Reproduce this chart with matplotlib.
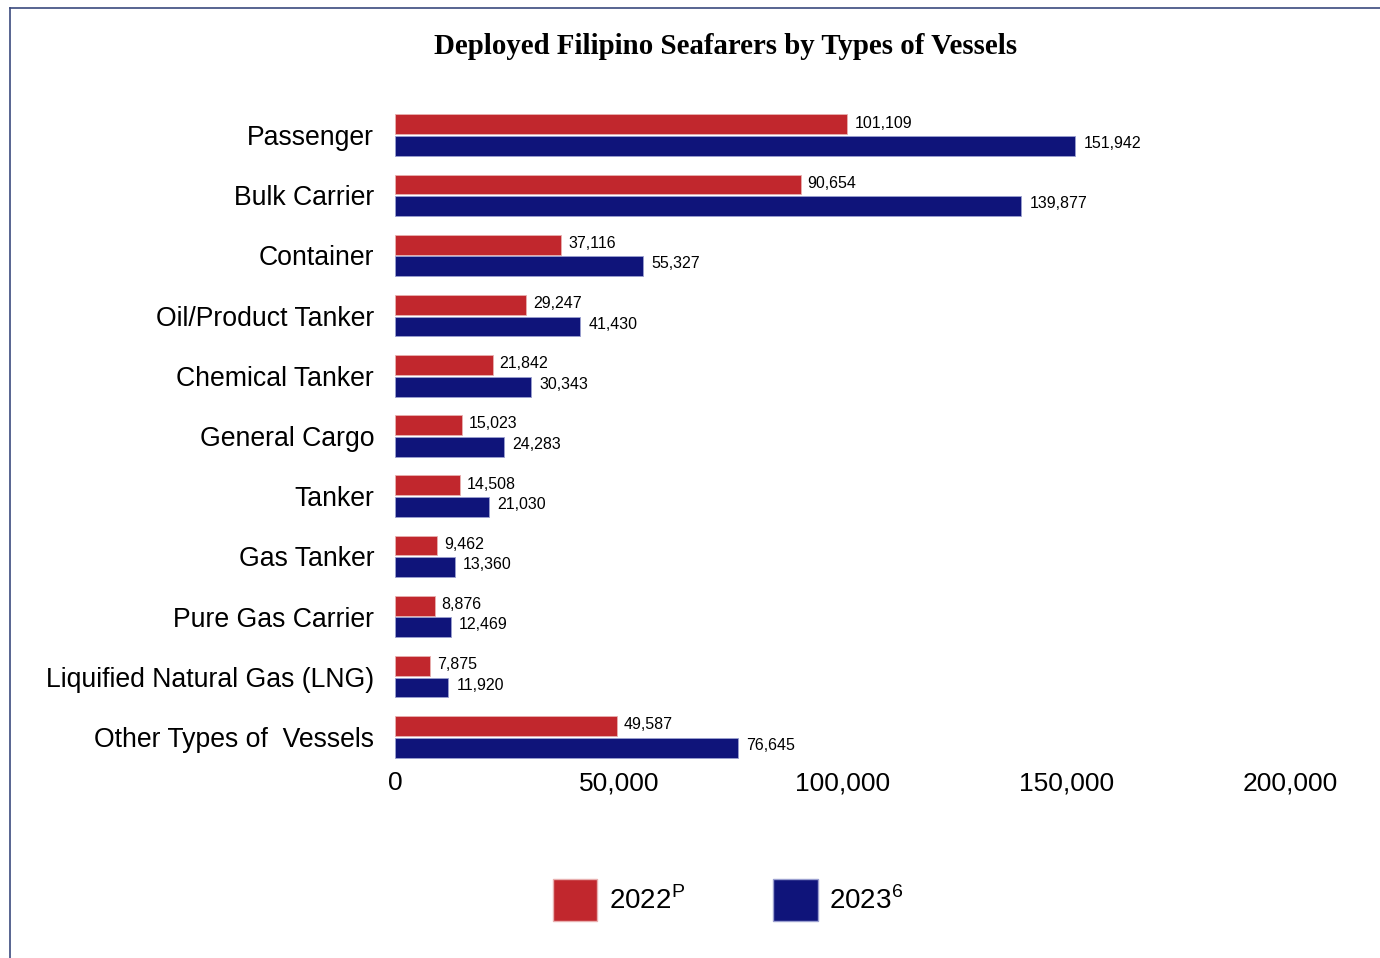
import matplotlib.pyplot as plt
import matplotlib.transforms as mtransforms
from matplotlib.patches import Patch
from matplotlib.lines import Line2D
import numpy as np

plt.rcParams['font.family'] = ['Liberation Sans', 'DejaVu Sans']
plt.rcParams['mathtext.fontset'] = 'custom'
plt.rcParams['mathtext.rm'] = 'Liberation Sans'

vessels = ['Passenger', 'Bulk Carrier', 'Container', 'Oil/Product Tanker',
           'Chemical Tanker', 'General Cargo', 'Tanker', 'Gas Tanker',
           'Pure Gas Carrier', 'Liquified Natural Gas (LNG)', 'Other Types of  Vessels']
y2022 = [101109, 90654, 37116, 29247, 21842, 15023, 14508, 9462, 8876, 7875, 49587]
y2023 = [151942, 139877, 55327, 41430, 30343, 24283, 21030, 13360, 12469, 11920, 76645]

RED = '#C1272D'
BLUE = '#0F147A'

fig = plt.figure(figsize=(13.8, 9.58), dpi=100)
ax = fig.add_axes([395 / 1380, 1 - 767 / 958, 895 / 1380, 662 / 958])

pos = np.arange(len(vessels))
h = 0.33
ax.barh(pos - h / 2 - 0.015, y2022, height=h, color=RED, edgecolor='#E8B0B0', linewidth=0.6)
ax.barh(pos + h / 2 + 0.015, y2023, height=h, color=BLUE, edgecolor='#9BA0D0', linewidth=0.6)

for i in range(len(vessels)):
    ax.annotate(f'{y2022[i]:,}', (y2022[i], pos[i] - 0.2), xytext=(5, 0),
                textcoords='offset points', va='center', ha='left', fontsize=11.5)
    ax.annotate(f'{y2023[i]:,}', (y2023[i], pos[i] + 0.14), xytext=(6, 0),
                textcoords='offset points', va='center', ha='left', fontsize=11.5)

ax.set_xlim(0, 200000)
ax.set_ylim(10.5, -0.5)
ax.set_yticks(pos)
ax.set_yticklabels(vessels, fontsize=19.2)
# nudge category labels up a little
shift = mtransforms.ScaledTranslation(0, 3 / 100, fig.dpi_scale_trans)
for lbl in ax.get_yticklabels():
    lbl.set_transform(lbl.get_transform() + shift)
ax.set_xticks([0, 50000, 100000, 150000, 200000])
ax.set_xticklabels(['0', '50,000', '100,000', '150,000', '200,000'], fontsize=19)
ax.tick_params(length=0)
ax.tick_params(axis='y', pad=15)
ax.tick_params(axis='x', pad=3)
for s in ax.spines.values():
    s.set_visible(False)

fig.text(726 / 1380, 1 - 47 / 958, 'Deployed Filipino Seafarers by Types of Vessels',
         ha='center', va='center', fontsize=20.8, fontweight='bold', family='Liberation Serif')

handles = [Patch(facecolor=RED, edgecolor='#E8B0B0'), Patch(facecolor=BLUE, edgecolor='#9BA0D0')]
fig.legend(handles, [r'2022$^{\mathrm{P}}$', r'2023$^{\mathrm{6}}$'], loc='center',
           bbox_to_anchor=(728 / 1380, 1 - 900 / 958), ncol=2, frameon=False, fontsize=20,
           handlelength=1.6, handleheight=1.9, columnspacing=3.2, handletextpad=0.4)

# frame lines
fig.add_artist(Line2D([10 / 1380, 10 / 1380], [0, 1 - 8 / 958], color='#3B4A7E', linewidth=1.2))
fig.add_artist(Line2D([10 / 1380, 1], [1 - 8 / 958, 1 - 8 / 958], color='#3B4A7E', linewidth=1.2))

fig.savefig('out.png', dpi=100)
